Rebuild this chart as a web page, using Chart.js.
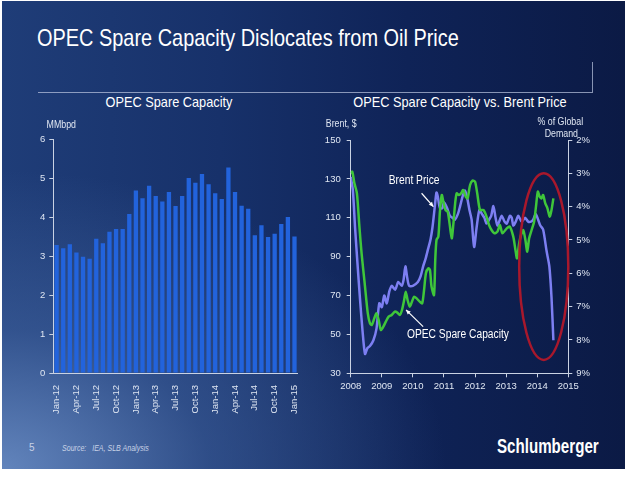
<!DOCTYPE html>
<html>
<head>
<meta charset="utf-8">
<script src="https://cdn.jsdelivr.net/npm/chart.js@4.4.1/dist/chart.umd.min.js"></script>
<style>
  body { margin: 0; width: 631px; height: 478px; background: #fff; position: relative; overflow: hidden;
         font-family: "Liberation Sans", Arial, sans-serif; }
  #slide { position: absolute; left: 2px; top: 1px; width: 623px; height: 468px;
           background:
             radial-gradient(ellipse 95% 85% at 0% 100%, rgba(110,145,200,0.85) 0%, rgba(70,105,165,0.5) 35%, rgba(40,70,130,0) 75%),
             linear-gradient(90deg, #1f3d78 0%, #17316a 35%, #0f2357 65%, #0b1a45 100%); }
  .txt { position: absolute; color: #fff; white-space: nowrap; }
  #title { left: 37px; top: 26px; font-size: 24px; line-height: 24px; transform: scaleX(0.83); transform-origin: 0 50%; }
  #rule { position: absolute; left: 38px; top: 62px; width: 554px; height: 30px;
          border-right: 1px solid rgba(190,200,225,0.7); border-bottom: 1px solid rgba(190,200,225,0.7); }
  .ctitle { font-size: 15px; line-height: 15px; top: 94px; text-align: center; width: 260px; transform: scaleX(0.85); }
  canvas { position: absolute; }
  #pageNo { left: 29px; top: 442px; font-size: 10px; color: #c8d2e6; }
  #source { left: 62px; top: 443px; font-size: 8.5px; font-style: italic; color: #c8d2e6; transform: scaleX(0.83); transform-origin: 0 50%; }
  #logo { left: 497px; top: 434px; font-size: 21px; font-weight: bold; transform: scaleX(0.72); transform-origin: 0 50%; }
</style>
</head>
<body>
<div id="slide"></div>
<div class="txt" id="title">OPEC Spare Capacity Dislocates from Oil Price</div>
<div id="rule"></div>
<div class="txt ctitle" style="left:39px">OPEC Spare Capacity</div>
<div class="txt ctitle" style="left:330px">OPEC Spare Capacity vs. Brent Price</div>
<canvas id="capChart" width="290" height="305" style="left:20px; top:110px"></canvas>
<canvas id="priceChart" width="290" height="300" style="left:318px; top:110px"></canvas>
<div class="txt" id="pageNo">5</div>
<div class="txt" id="source">Source:&nbsp;&nbsp;&nbsp;IEA, SLB Analysis</div>
<div class="txt" id="logo">Schlumberger</div>
<script>
// OPEC spare capacity, MMbpd, monthly
const capMonths = ['Jan-12','Feb-12','Mar-12','Apr-12','May-12','Jun-12','Jul-12','Aug-12','Sep-12','Oct-12','Nov-12','Dec-12',
                   'Jan-13','Feb-13','Mar-13','Apr-13','May-13','Jun-13','Jul-13','Aug-13','Sep-13','Oct-13','Nov-13','Dec-13',
                   'Jan-14','Feb-14','Mar-14','Apr-14','May-14','Jun-14','Jul-14','Aug-14','Sep-14','Oct-14','Nov-14','Dec-14','Jan-15'];
const capValues = [3.28, 3.20, 3.30, 3.09, 2.98, 2.93, 3.44, 3.33, 3.62, 3.69, 3.69, 4.08,
                   4.68, 4.48, 4.80, 4.54, 4.40, 4.64, 4.28, 4.54, 5.00, 4.88, 5.10, 4.84,
                   4.61, 4.46, 5.27, 4.64, 4.29, 4.21, 3.53, 3.79, 3.49, 3.57, 3.82, 4.00, 3.50];

// Brent price, $ (left axis)
const brentYears = [2008.00, 2008.07, 2008.14, 2008.22, 2008.30, 2008.38, 2008.46, 2008.54, 2008.62, 2008.73, 2008.83, 2008.92,
                    2009.00, 2009.08, 2009.16, 2009.24, 2009.32, 2009.43, 2009.53, 2009.64, 2009.70, 2009.76, 2009.82, 2009.88,
                    2010.00, 2010.16, 2010.25, 2010.33, 2010.41, 2010.49, 2010.57, 2010.63, 2010.68, 2010.72, 2010.76, 2010.80,
                    2010.87, 2010.95, 2011.00, 2011.10, 2011.19, 2011.27, 2011.35, 2011.45, 2011.52, 2011.60, 2011.68, 2011.75,
                    2011.82, 2011.89, 2011.97, 2012.05, 2012.14, 2012.22, 2012.30, 2012.37, 2012.45, 2012.52, 2012.59, 2012.66,
                    2012.72, 2012.80, 2012.86, 2012.95, 2013.02, 2013.12, 2013.18, 2013.23, 2013.31, 2013.39, 2013.50, 2013.61,
                    2013.71, 2013.80, 2013.87, 2013.95, 2014.03, 2014.10, 2014.19, 2014.30, 2014.39, 2014.46, 2014.52];
const brentPrices = [131, 124, 105, 86, 68, 52, 40, 43, 44, 47, 53, 66,
                     64, 70, 66, 72, 75, 73, 77, 75, 78, 85, 79, 75,
                     75, 77, 80, 85, 89, 94, 99, 105, 112, 118, 123, 121,
                     115, 115, 118, 115, 111, 110, 109, 112, 116, 121, 124, 120,
                     114, 109, 95, 105, 114, 112, 110, 107, 109, 111, 116, 110,
                     106, 109, 111, 108, 107, 111, 110, 106, 108, 111, 108, 110,
                     108, 108, 109, 112, 109, 106, 104, 93, 85, 69, 47];

// OPEC spare capacity, % of global demand (right axis, inverted)
const spareYears = [2008.00, 2008.05, 2008.12, 2008.20, 2008.28, 2008.35, 2008.45, 2008.55, 2008.62, 2008.68, 2008.76, 2008.83,
                    2008.90, 2008.97, 2009.05, 2009.13, 2009.22, 2009.32, 2009.42, 2009.50, 2009.58, 2009.65, 2009.72, 2009.77,
                    2009.83, 2009.90, 2009.97, 2010.04, 2010.12, 2010.22, 2010.30, 2010.36, 2010.42, 2010.50, 2010.55, 2010.60,
                    2010.68, 2010.72, 2010.76, 2010.82, 2010.87, 2010.93, 2010.98, 2011.05, 2011.12, 2011.18, 2011.25, 2011.30,
                    2011.36, 2011.41, 2011.48, 2011.55, 2011.62, 2011.70, 2011.76, 2011.84, 2011.92, 2012.00, 2012.07, 2012.16,
                    2012.27, 2012.37, 2012.45, 2012.53, 2012.62, 2012.72, 2012.80, 2012.88, 2013.02, 2013.12, 2013.23, 2013.30,
                    2013.35, 2013.42, 2013.48, 2013.55, 2013.62, 2013.68, 2013.74, 2013.82, 2013.90, 2013.96, 2014.02, 2014.08,
                    2014.14, 2014.19, 2014.26, 2014.33, 2014.40, 2014.46, 2014.52];
const sparePct = [3.0, 2.95, 3.3, 3.6, 4.6, 5.4, 6.3, 7.2, 7.5, 7.55, 7.35, 7.2,
                  7.4, 7.7, 7.6, 7.45, 7.3, 7.25, 7.15, 7.18, 7.25, 7.1, 6.8, 6.55,
                  6.8, 7.0, 6.85, 6.7, 6.75, 6.85, 6.9, 6.5, 6.0, 5.85, 5.9, 6.4,
                  6.65, 5.6, 5.0, 4.9, 4.15, 3.65, 3.85, 4.1, 4.15, 4.5, 4.95, 4.55,
                  3.9, 3.6, 3.65, 3.6, 3.5, 3.7, 3.75, 3.35, 3.22, 3.25, 3.6, 4.1,
                  4.1, 4.3, 4.55, 4.7, 4.8, 4.75, 4.55, 4.8, 4.65, 4.6, 4.9, 5.3,
                  5.55, 5.1, 4.85, 4.7, 5.0, 5.35, 4.95, 4.7, 4.45, 4.0, 3.55, 3.7,
                  3.75, 3.65, 3.9, 4.05, 4.3, 4.1, 3.75];

const tickColor = '#dfe6f2';
const axisColor = '#c9d2e3';
const fontFamily = '"Liberation Sans", Arial, sans-serif';
Chart.defaults.font.family = fontFamily;
Chart.defaults.font.size = 9.5;
Chart.defaults.color = tickColor;

// narrow text, the slide font is condensed
function narrowText(ctx, text, x, y, squeeze) {
  ctx.save();
  ctx.translate(x, y);
  ctx.scale(squeeze, 1);
  ctx.fillText(text, 0, 0);
  ctx.restore();
}

// unit captions above the axes
const unitLabels = {
  id: 'unitLabels',
  afterDraw(chart, args, opts) {
    const { ctx, chartArea } = chart;
    ctx.save();
    ctx.fillStyle = tickColor;
    ctx.font = '10.5px ' + fontFamily;
    ctx.textAlign = 'center';
    ctx.textBaseline = 'middle';
    opts.items.forEach(it => {
      const x = it.side === 'right' ? chartArea.right + it.dx : chartArea.left + it.dx;
      narrowText(ctx, it.text, x, chartArea.top + it.dy, 0.84);
    });
    ctx.restore();
  }
};

new Chart(document.getElementById('capChart'), {
  type: 'bar',
  data: {
    labels: capMonths,
    datasets: [{ data: capValues, backgroundColor: '#2263dc', barPercentage: 0.65, categoryPercentage: 1 }]
  },
  options: {
    responsive: false,
    animation: false,
    layout: { padding: { top: 29, right: 8, left: 0, bottom: 0 } },
    plugins: {
      legend: { display: false },
      tooltip: { enabled: false },
      unitLabels: { items: [{ text: 'MMbpd', dx: 8, dy: -14 }] }
    },
    scales: {
      x: {
        grid: { display: false },
        border: { color: axisColor },
        ticks: { autoSkip: false, maxRotation: 90, minRotation: 90, padding: 4,
                 callback: (v, i) => (i % 3 === 0 ? capMonths[i] : '') },
        afterFit: s => { s.height = 42; }
      },
      y: {
        min: 0, max: 6,
        ticks: { stepSize: 1, padding: 4 },
        grid: { drawOnChartArea: false, tickLength: 4, color: axisColor },
        border: { color: axisColor },
        afterFit: s => { s.width = 33.3; }
      }
    }
  },
  plugins: [unitLabels]
});

// notes drawn on the price chart, in data units
const noteBrent = { text: 'Brent Price', x: 2010.04, y: 128.9, from: [2010.28, 122.6], to: [2010.66, 115.7] };
const noteSpare = { text: 'OPEC Spare Capacity', x: 2011.45, y: 49.7, from: [2010.33, 54], to: [2009.78, 62.6] };
const ring = { x: 2014.21, y: 84.9, rx: 0.79, ry: 48 };

const annotate = {
  id: 'annotate',
  afterDatasetsDraw(chart) {
    const { ctx } = chart;
    const xs = chart.scales.x, ys = chart.scales.price;
    const px = (a, b) => [xs.getPixelForValue(a), ys.getPixelForValue(b)];
    ctx.save();
    const [cx, cy] = px(ring.x, ring.y);
    const rx = xs.getPixelForValue(ring.x + ring.rx) - cx;
    const ry = ys.getPixelForValue(ring.y - ring.ry) - cy;
    ctx.beginPath();
    ctx.ellipse(cx, cy, rx, ry, 0, 0, Math.PI * 2);
    ctx.strokeStyle = '#a8182c';
    ctx.lineWidth = 2.5;
    ctx.stroke();

    ctx.fillStyle = '#fff';
    ctx.strokeStyle = '#fff';
    ctx.lineWidth = 1.2;
    ctx.font = '12.5px ' + fontFamily;
    ctx.textAlign = 'center';
    ctx.textBaseline = 'middle';
    [noteBrent, noteSpare].forEach(n => {
      const [tx, ty] = px(n.x, n.y);
      narrowText(ctx, n.text, tx, ty, 0.82);
      const [x1, y1] = px(n.from[0], n.from[1]);
      const [x2, y2] = px(n.to[0], n.to[1]);
      ctx.beginPath();
      ctx.moveTo(x1, y1);
      ctx.lineTo(x2, y2);
      ctx.stroke();
      const a = Math.atan2(y2 - y1, x2 - x1);
      ctx.beginPath();
      ctx.moveTo(x2, y2);
      ctx.lineTo(x2 - 5 * Math.cos(a - 0.45), y2 - 5 * Math.sin(a - 0.45));
      ctx.lineTo(x2 - 5 * Math.cos(a + 0.45), y2 - 5 * Math.sin(a + 0.45));
      ctx.closePath();
      ctx.fill();
    });
    ctx.restore();
  }
};

new Chart(document.getElementById('priceChart'), {
  type: 'line',
  data: {
    datasets: [
      { label: 'OPEC Spare Capacity', yAxisID: 'pct', data: spareYears.map((x, i) => ({ x, y: sparePct[i] })),
        borderColor: '#3fc63a', borderWidth: 2.5, pointRadius: 0, tension: 0.25 },
      { label: 'Brent Price', yAxisID: 'price', data: brentYears.map((x, i) => ({ x, y: brentPrices[i] })),
        borderColor: '#7d7ff2', borderWidth: 2.5, pointRadius: 0, tension: 0.25 }
    ]
  },
  options: {
    responsive: false,
    animation: false,
    layout: { padding: { top: 30, right: 0, left: 0, bottom: 0 } },
    plugins: {
      legend: { display: false },
      tooltip: { enabled: false },
      unitLabels: { items: [
        { text: 'Brent, $', dx: -9.5, dy: -15.7 },
        { text: '% of Global', side: 'right', dx: -8, dy: -18 },
        { text: 'Demand', side: 'right', dx: -7, dy: -5.7 }
      ] }
    },
    scales: {
      x: {
        type: 'linear', min: 2008, max: 2015,
        ticks: { stepSize: 1, padding: 3, callback: v => String(v) },
        grid: { drawOnChartArea: false, tickLength: 4, color: axisColor },
        border: { color: axisColor },
        afterFit: s => { s.height = 36.7; }
      },
      price: {
        position: 'left', min: 30, max: 150,
        ticks: { stepSize: 20, padding: 6 },
        grid: { drawOnChartArea: false, tickLength: 4, color: axisColor },
        border: { color: axisColor },
        afterFit: s => { s.width = 32.7; }
      },
      pct: {
        position: 'right', min: 2, max: 9, reverse: true,
        ticks: { stepSize: 1, padding: 4, callback: v => v + '%' },
        grid: { drawOnChartArea: false, tickLength: 4, color: axisColor },
        border: { color: axisColor },
        afterFit: s => { s.width = 39.7; }
      }
    }
  },
  plugins: [unitLabels, annotate]
});
</script>
</body>
</html>
